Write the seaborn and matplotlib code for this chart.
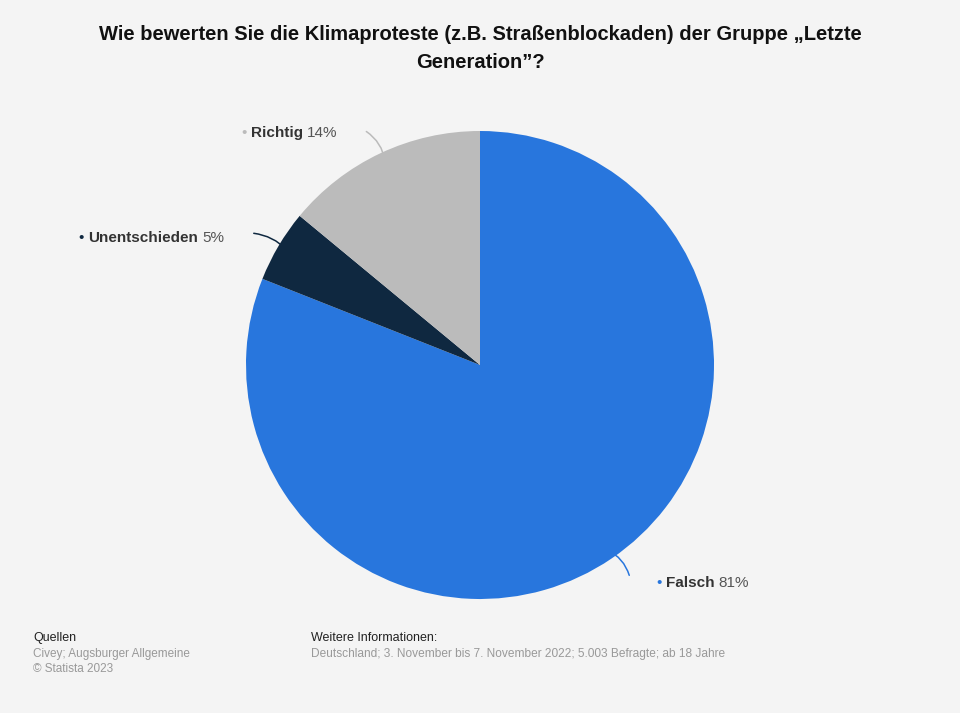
import numpy as np
import matplotlib
matplotlib.use("Agg")
import matplotlib.pyplot as plt
import seaborn as sns

# dados do gráfico
categorias = ["Falsch", "Unentschieden", "Richtig"]
valores = [81, 5, 14]
cores = ["#2876dd", "#0f2840", "#bbbbbb"]

titulo = "Wie bewerten Sie die Klimaproteste (z.B. Straßenblockaden) der Gruppe „Letzte\nGeneration”?"

sns.set_theme(style="white")
plt.rcParams["font.family"] = ["Liberation Sans", "DejaVu Sans"]

W, H = 960, 713
fig = plt.figure(figsize=(W / 100, H / 100), dpi=100)
fig.patch.set_facecolor("#f4f4f4")


def px(x, y):
    return x / W, 1 - y / H


# eixo da pizza: centro (480, 365), raio 234 px
cx, cy, r = 480, 365, 234
ax = fig.add_axes([(cx - r) / W, (H - cy - r) / H, 2 * r / W, 2 * r / H])
ax.set_facecolor("#f4f4f4")
wedges, _ = ax.pie(valores, colors=cores, startangle=90, counterclock=False,
                   wedgeprops=dict(linewidth=0))
ax.set_aspect("equal")
ax.set_xlim(-1, 1)
ax.set_ylim(-1, 1)
ax.axis("off")

# título
fig.text(0.5, px(0, 48)[1], titulo, ha="center", va="center", fontsize=14.5,
         fontweight="bold", color="#111111", linespacing=1.6)

# rótulos: (posição do ponto, fim do conector, curvatura)
rotulos = {
    "Falsch": ((659, 583), (630, 578), 0.25),
    "Unentschieden": ((81, 238), (251, 233), -0.2),
    "Richtig": ((244, 133), (364, 130), -0.25),
}

fig.canvas.draw()
renderer = fig.canvas.get_renderer()
for w, nome, val, cor in zip(wedges, categorias, valores, cores):
    (dx, dy), (ex, ey), rad = rotulos[nome]
    ang = np.deg2rad((w.theta1 + w.theta2) / 2)
    ponto = (0.95 * np.cos(ang), 0.95 * np.sin(ang))
    ax.annotate("", xy=ponto, xycoords="data", xytext=px(ex, ey),
                textcoords="figure fraction",
                arrowprops=dict(arrowstyle="-", color=cor, lw=1.1,
                                connectionstyle=f"arc3,rad={rad}"))
    fig.text(*px(dx, dy), "•", ha="center", va="center", fontsize=11, color=cor)
    t = fig.text(*px(dx + 7, dy), nome, ha="left", va="center", fontsize=11,
                 fontweight="bold", color="#333333")
    bb = t.get_window_extent(renderer)
    fig.text(bb.x1 / W + 4 / W, px(0, dy)[1], f"{val}%", ha="left", va="center",
             fontsize=11, color="#555555")

# rodapé
fig.text(*px(33, 638), "Quellen", ha="left", va="center", fontsize=9, color="#222222")
fig.text(*px(33, 654), "Civey; Augsburger Allgemeine", ha="left", va="center",
         fontsize=8.5, color="#999999")
fig.text(*px(33, 669), "© Statista 2023", ha="left", va="center", fontsize=8.5,
         color="#999999")
fig.text(*px(311, 638), "Weitere Informationen:", ha="left", va="center", fontsize=9,
         color="#222222")
fig.text(*px(311, 654),
         "Deutschland; 3. November bis 7. November 2022; 5.003 Befragte; ab 18 Jahre",
         ha="left", va="center", fontsize=8.6, color="#999999")

fig.savefig("out.png", dpi=100, facecolor=fig.get_facecolor())
